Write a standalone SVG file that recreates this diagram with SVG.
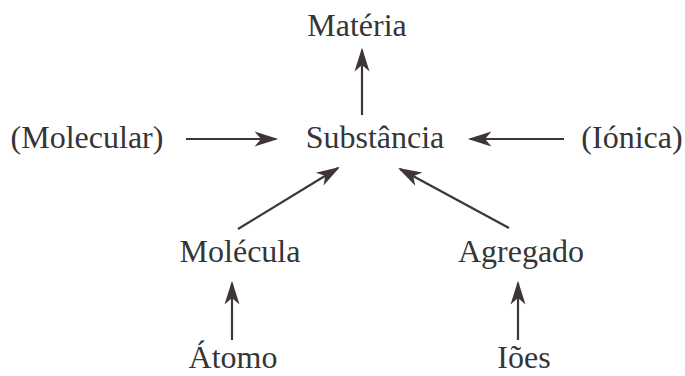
<svg xmlns="http://www.w3.org/2000/svg" width="685" height="376" viewBox="0 0 685 376">
  <style>
    .lbl { font-family: "Liberation Serif", "Times New Roman", serif; font-size: 32px; fill: #353535; text-anchor: middle; }
    .arr { stroke: #3d3539; stroke-width: 2.2; fill: none; marker-end: url(#head); }
  </style>
  <defs>
    <marker id="head" markerUnits="userSpaceOnUse" orient="auto" refX="0" refY="0" markerWidth="30" markerHeight="30" viewBox="-24 -10 28 20" overflow="visible">
      <path d="M2,0 L-20,-7 L-14,0 L-20,7 Z" fill="#3d3539"/>
    </marker>
  </defs>
  <rect width="685" height="376" fill="#ffffff"/>
  <g id="connectors">
    <line class="arr" x1="362" y1="115" x2="362" y2="50"/>
    <line class="arr" x1="186" y1="139" x2="276" y2="139"/>
    <line class="arr" x1="564" y1="139" x2="470" y2="139"/>
    <line class="arr" x1="238" y1="229" x2="338" y2="168"/>
    <line class="arr" x1="509" y1="228" x2="400" y2="169"/>
    <line class="arr" x1="232" y1="340" x2="232" y2="283"/>
    <line class="arr" x1="518" y1="340" x2="518" y2="283"/>
  </g>
  <g id="materia"><text class="lbl" x="357" y="36">Matéria</text></g>
  <g id="molecular"><text class="lbl" x="87" y="148">(Molecular)</text></g>
  <g id="substancia"><text class="lbl" x="375" y="148">Substância</text></g>
  <g id="ionica"><text class="lbl" x="632" y="148">(Iónica)</text></g>
  <g id="molecula"><text class="lbl" x="240" y="262">Molécula</text></g>
  <g id="agregado"><text class="lbl" x="521" y="262">Agregado</text></g>
  <g id="atomo"><text class="lbl" x="233" y="368">Átomo</text></g>
  <g id="ioes"><text class="lbl" x="524" y="368">Iões</text></g>
</svg>
